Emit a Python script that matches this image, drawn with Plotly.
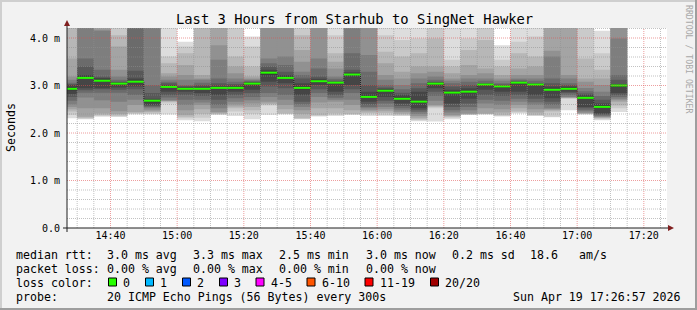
import plotly.graph_objects as go
import pandas as pd

# ---------------- data ----------------
title_text = "Last 3 Hours from Starhub to SingNet Hawker"
date_str = "2026-04-19"
x_start = "2026-04-19 14:26:57"
x_end = "2026-04-19 17:26:57"

bar_times = ["14:30", "14:35", "14:40", "14:45", "14:50", "14:55",
             "15:00", "15:05", "15:10", "15:15", "15:20", "15:25",
             "15:30", "15:35", "15:40", "15:45", "15:50", "15:55",
             "16:00", "16:05", "16:10", "16:15", "16:20", "16:25",
             "16:30", "16:35", "16:40", "16:45", "16:50", "16:55",
             "17:00", "17:05", "17:10", "17:15"]

medians = [2.93, 3.16, 3.10, 3.04, 3.08, 2.68, 2.97, 2.93, 2.93, 2.95, 2.95, 3.04,
           3.27, 3.16, 2.95, 3.09, 3.06, 3.23, 2.76, 2.89, 2.72, 2.66, 3.04, 2.85,
           2.87, 3.02, 2.98, 3.06, 3.02, 2.91, 2.93, 2.74, 2.55, 3.00]

# 20 sorted ping RTTs (ms) per 5-minute step
pings = [
    [2.31, 2.38, 2.45, 2.50, 2.55, 2.60, 2.68, 2.76, 2.82, 2.90, 2.96, 3.01, 3.03, 3.06, 3.12, 3.19, 3.57, 4.40, 4.70, 5.00],
    [2.29, 2.30, 2.32, 2.34, 2.52, 2.75, 2.85, 2.90, 2.94, 3.14, 3.19, 3.22, 3.40, 3.57, 4.50, 4.80, 5.10, 5.40, 5.70, 6.00],
    [2.34, 2.36, 2.38, 2.41, 2.52, 2.69, 2.85, 2.92, 2.94, 3.08, 3.12, 3.16, 3.19, 3.33, 4.15, 4.18, 4.50, 4.80, 5.10, 5.50],
    [2.34, 2.35, 2.37, 2.40, 2.46, 2.66, 2.85, 2.91, 2.96, 3.02, 3.06, 3.07, 3.08, 3.12, 3.19, 3.33, 3.82, 4.06, 4.50, 4.90],
    [2.39, 2.40, 2.42, 2.44, 2.59, 2.70, 2.80, 2.92, 2.98, 3.06, 3.10, 3.15, 3.31, 4.40, 4.70, 5.00, 5.30, 5.60, 6.00, 6.50],
    [2.39, 2.40, 2.43, 2.45, 2.48, 2.52, 2.55, 2.57, 2.59, 2.65, 2.69, 2.72, 2.84, 3.01, 4.40, 4.70, 5.00, 5.30, 5.60, 6.00],
    [2.39, 2.62, 2.66, 2.67, 2.68, 2.69, 2.75, 2.80, 2.87, 2.95, 2.99, 3.01, 3.05, 3.08, 3.12, 3.19, 3.26, 3.47, 3.61, 4.50],
    [2.27, 2.31, 2.34, 2.38, 2.48, 2.59, 2.70, 2.80, 2.87, 2.91, 2.95, 2.97, 2.99, 3.01, 3.12, 3.22, 3.43, 3.68, 3.82, 3.92],
    [2.25, 2.32, 2.40, 2.50, 2.59, 2.64, 2.70, 2.78, 2.84, 2.91, 2.95, 2.98, 3.01, 3.06, 3.12, 3.15, 3.22, 4.40, 4.80, 5.20],
    [2.38, 2.39, 2.40, 2.42, 2.44, 2.52, 2.59, 2.70, 2.80, 2.93, 2.97, 3.00, 3.05, 3.15, 3.54, 3.85, 4.40, 4.80, 5.10, 5.40],
    [2.36, 2.45, 2.52, 2.56, 2.60, 2.66, 2.73, 2.80, 2.87, 2.93, 2.97, 3.00, 3.03, 3.08, 3.15, 3.26, 3.40, 3.61, 4.50, 4.90],
    [2.29, 2.40, 2.48, 2.55, 2.62, 2.69, 2.76, 2.84, 2.91, 3.02, 3.06, 3.07, 3.08, 3.10, 3.12, 3.15, 3.19, 3.40, 3.82, 4.03],
    [2.38, 2.58, 2.60, 2.62, 2.66, 2.76, 2.84, 2.98, 3.08, 3.23, 3.29, 3.33, 3.40, 3.47, 3.57, 4.40, 4.70, 5.00, 5.30, 5.60],
    [2.39, 2.40, 2.41, 2.50, 2.59, 2.70, 2.80, 2.94, 3.05, 3.14, 3.19, 3.22, 3.29, 3.43, 3.61, 4.40, 4.70, 5.00, 5.30, 5.60],
    [2.29, 2.30, 2.31, 2.40, 2.48, 2.55, 2.60, 2.66, 2.80, 2.92, 2.98, 3.05, 3.15, 3.22, 3.29, 3.50, 3.75, 4.06, 4.50, 4.90],
    [2.35, 2.36, 2.38, 2.52, 2.64, 2.76, 2.84, 2.92, 3.01, 3.07, 3.11, 3.14, 3.19, 3.36, 3.57, 4.40, 4.70, 5.00, 5.30, 5.60],
    [2.36, 2.38, 2.41, 2.52, 2.66, 2.70, 2.74, 2.80, 2.87, 3.04, 3.07, 3.08, 3.10, 3.14, 3.19, 3.36, 3.50, 3.68, 4.06, 4.60],
    [2.38, 2.39, 2.40, 2.48, 2.59, 2.70, 2.84, 2.92, 3.01, 3.20, 3.24, 3.28, 3.33, 3.68, 4.40, 4.70, 5.00, 5.30, 5.60, 6.00],
    [2.36, 2.39, 2.42, 2.45, 2.48, 2.52, 2.55, 2.60, 2.66, 2.75, 2.79, 2.87, 3.01, 3.29, 3.64, 4.40, 4.70, 5.00, 5.30, 5.60],
    [2.36, 2.38, 2.42, 2.46, 2.50, 2.55, 2.62, 2.68, 2.76, 2.87, 2.91, 2.93, 2.96, 3.01, 3.12, 3.22, 3.47, 3.71, 4.06, 4.60],
    [2.36, 2.37, 2.39, 2.41, 2.44, 2.48, 2.52, 2.57, 2.62, 2.70, 2.75, 2.80, 2.85, 2.92, 3.01, 3.15, 3.29, 3.61, 3.96, 4.50],
    [2.25, 2.27, 2.29, 2.32, 2.36, 2.40, 2.44, 2.48, 2.52, 2.63, 2.68, 2.87, 2.94, 3.05, 3.15, 3.26, 3.40, 3.68, 3.99, 4.50],
    [2.24, 2.52, 2.55, 2.57, 2.59, 2.68, 2.78, 2.87, 2.94, 3.02, 3.06, 3.07, 3.08, 3.12, 3.19, 3.29, 3.40, 3.99, 4.50, 4.90],
    [2.29, 2.32, 2.34, 2.36, 2.38, 2.43, 2.48, 2.55, 2.62, 2.82, 2.87, 2.91, 2.98, 3.05, 3.10, 3.15, 3.26, 3.40, 3.54, 4.50],
    [2.38, 2.385, 2.39, 2.40, 2.41, 2.48, 2.55, 2.62, 2.72, 2.85, 2.89, 2.94, 3.01, 3.08, 3.15, 3.22, 3.43, 3.75, 3.99, 4.50],
    [2.39, 2.395, 2.40, 2.41, 2.52, 2.62, 2.70, 2.80, 2.91, 2.99, 3.03, 3.04, 3.05, 3.10, 3.15, 3.26, 3.36, 3.96, 4.50, 4.90],
    [2.35, 2.36, 2.38, 2.43, 2.50, 2.59, 2.68, 2.78, 2.87, 2.95, 2.99, 3.00, 3.02, 3.05, 3.10, 3.15, 3.22, 3.40, 3.54, 3.85],
    [2.41, 2.43, 2.45, 2.52, 2.59, 2.66, 2.72, 2.80, 2.87, 3.03, 3.07, 3.08, 3.09, 3.12, 3.15, 3.22, 3.36, 3.68, 3.92, 4.50],
    [2.36, 2.37, 2.38, 2.43, 2.50, 2.59, 2.65, 2.72, 2.80, 2.99, 3.03, 3.04, 3.05, 3.10, 3.15, 3.22, 3.40, 3.61, 4.03, 4.60],
    [2.33, 2.34, 2.45, 2.48, 2.50, 2.52, 2.59, 2.66, 2.73, 2.89, 2.93, 2.98, 3.05, 3.15, 3.61, 3.73, 4.40, 4.70, 5.00, 5.30],
    [2.48, 2.72, 2.73, 2.74, 2.75, 2.76, 2.80, 2.84, 2.87, 2.92, 2.96, 2.98, 3.01, 3.05, 3.15, 3.22, 4.40, 4.70, 5.00, 5.30],
    [2.39, 2.395, 2.40, 2.41, 2.42, 2.45, 2.48, 2.52, 2.55, 2.72, 2.76, 2.80, 2.83, 2.88, 2.95, 3.08, 3.15, 3.57, 4.50, 4.90],
    [2.27, 2.29, 2.31, 2.32, 2.34, 2.35, 2.37, 2.39, 2.41, 2.53, 2.58, 2.62, 2.70, 2.78, 2.87, 3.01, 3.15, 3.33, 3.68, 4.15],
    [2.44, 2.52, 2.58, 2.66, 2.69, 2.72, 2.76, 2.80, 2.84, 2.97, 3.01, 3.03, 3.12, 3.22, 3.99, 4.50, 4.80, 5.10, 5.40, 5.70],
]

y_tick_vals = [0, 1, 2, 3, 4]
y_tick_text = ["0.0", "1.0 m", "2.0 m", "3.0 m", "4.0 m"]
y_label = "Seconds"

stat_rows = [
    ("median rtt:", ["3.0 ms avg", "3.3 ms max", "2.5 ms min", "3.0 ms now", "0.2 ms sd", "18.6", "am/s"]),
    ("packet loss:", ["0.00 % avg", "0.00 % max", "0.00 % min", "0.00 % now"]),
]
loss_labels = ["0", "1", "2", "3", "4-5", "6-10", "11-19", "20/20"]
loss_colors = ["#26ff00", "#00b8ff", "#0059ff", "#7e00ff", "#ff00ff", "#ff5500", "#ff0000", "#a10000"]
probe_text = "20 ICMP Echo Pings (56 Bytes) every 300s"
stamp_text = "Sun Apr 19 17:26:57 2026"
watermark = "RRDTOOL / TOBI OETIKER"

# ---------------- layout geometry ----------------
W, H = 697, 310
L, R, T, B = 67, 30, 28, 82
PW, PH = W - L - R, H - T - B
Y_MAX = 200 / 47.5
FONT = "DejaVu Sans Mono"


def px(x):
    return (x - L) / PW


def py(y):
    return (H - B - y) / PH


ends = pd.to_datetime([f"{date_str} {t}" for t in bar_times])
starts = ends - pd.Timedelta(minutes=5)
xs = list(starts) + [ends[-1]]

fig = go.Figure()

# smoke: 10 nested bands, outer lightest, inner darkest (SmokePing smokecol)
half = 10
for i in range(1, half + 1):
    c = int(190 / half * (half - i)) + 50
    lo = [p[i - 1] for p in pings]
    hi = [p[20 - i] for p in pings]
    fig.add_trace(go.Scatter(x=xs, y=lo + [lo[-1]], mode="lines",
                             line=dict(width=0, shape="hv"),
                             hoverinfo="skip", showlegend=False))
    fig.add_trace(go.Scatter(x=xs, y=hi + [hi[-1]], mode="lines",
                             line=dict(width=0, shape="hv"),
                             fill="tonexty", fillcolor=f"rgb({c},{c},{c})",
                             hoverinfo="skip", showlegend=False))

# median step line (black) and green median segments
fig.add_trace(go.Scatter(x=xs, y=medians + [medians[-1]], mode="lines",
                         line=dict(width=1, shape="hv", color="#1f1f1f", dash="1px,1px"),
                         hoverinfo="skip", showlegend=False))
gx, gy = [], []
for s, e, m in zip(starts, ends, medians):
    gx += [s, e, None]
    gy += [m, m, None]
fig.add_trace(go.Scatter(x=gx, y=gy, mode="lines",
                         line=dict(width=2, color=loss_colors[0]),
                         hoverinfo="skip", showlegend=False))

shapes = []
# grid (drawn above smoke, as rrdtool does)
minor_col = "rgba(143,143,143,0.55)"
major_col = "rgba(222,79,79,0.55)"
for t in pd.date_range(f"{date_str} 14:30", f"{date_str} 17:25", freq="5min"):
    col = major_col if t.minute % 20 == 0 else minor_col
    shapes.append(dict(type="line", xref="x", yref="paper", x0=t, x1=t, y0=0, y1=1,
                       line=dict(color=col, width=1, dash="1px,1px"), layer="above"))
for k in range(1, 22):
    v = k * 0.2
    col = major_col if k % 5 == 0 else minor_col
    shapes.append(dict(type="line", xref="paper", yref="y", x0=0, x1=1, y0=v, y1=v,
                       line=dict(color=col, width=1, dash="1px,1px"), layer="above"))

# axes with arrows
axis_col = "#1f1f1f"
arrow_col = "#801f1f"
shapes.append(dict(type="line", xref="paper", yref="paper", x0=px(63), x1=px(669),
                   y0=py(228), y1=py(228), line=dict(color=axis_col, width=1), layer="above"))
shapes.append(dict(type="line", xref="paper", yref="paper", x0=px(67), x1=px(67),
                   y0=py(232), y1=py(25), line=dict(color=axis_col, width=1), layer="above"))
shapes.append(dict(type="path", xref="paper", yref="paper",
                   path=f"M{px(668)},{py(225)} L{px(674)},{py(228)} L{px(668)},{py(231)} Z",
                   fillcolor=arrow_col, line=dict(width=0), layer="above"))
shapes.append(dict(type="path", xref="paper", yref="paper",
                   path=f"M{px(64)},{py(26)} L{px(67)},{py(20)} L{px(70)},{py(26)} Z",
                   fillcolor=arrow_col, line=dict(width=0), layer="above"))

# outer 3D frame
shapes.append(dict(type="rect", xref="paper", yref="paper", x0=px(0), x1=px(W), y0=py(0), y1=py(2),
                   fillcolor="#cfcfcf", line=dict(width=0), layer="above"))
shapes.append(dict(type="rect", xref="paper", yref="paper", x0=px(0), x1=px(2), y0=py(0), y1=py(H),
                   fillcolor="#cfcfcf", line=dict(width=0), layer="above"))
shapes.append(dict(type="rect", xref="paper", yref="paper", x0=px(0), x1=px(W), y0=py(H - 2), y1=py(H),
                   fillcolor="#9e9e9e", line=dict(width=0), layer="above"))
shapes.append(dict(type="rect", xref="paper", yref="paper", x0=px(W - 2), x1=px(W), y0=py(0), y1=py(H),
                   fillcolor="#9e9e9e", line=dict(width=0), layer="above"))

annotations = []


def text(x, y, s, size=11.6, anchor="left", color="black", angle=0):
    annotations.append(dict(x=px(x), y=py(y), xref="paper", yref="paper", text=s,
                            showarrow=False, xanchor=anchor, yanchor="middle",
                            font=dict(family=FONT, size=size, color=color),
                            borderpad=0, borderwidth=0, textangle=angle))


text(354.5, 19, title_text, size=13.8, anchor="center")
text(11, 128, y_label, size=11.6, anchor="center", angle=-90)
text(689, 59, watermark, size=8.2, anchor="center", color="#a8a8a8", angle=90)

col_x = [107, 193, 279, 365.5, 451.5, 529.5, 579]
row_y = [254.5, 268.5, 282.5, 296.5]
for (label, fields), yv in zip(stat_rows, row_y[:2]):
    text(15.5, yv, label)
    for f, xv in zip(fields, col_x):
        text(xv, yv, f)

text(15.5, row_y[2], "loss color:")
box_x = [108.5, 145.5, 182.5, 219.5, 256, 307, 365, 430.5]
for lab, colr, bx in zip(loss_labels, loss_colors, box_x):
    shapes.append(dict(type="rect", xref="paper", yref="paper",
                       x0=px(bx), x1=px(bx + 8), y0=py(row_y[2] - 4.5), y1=py(row_y[2] + 3.5),
                       fillcolor=colr, line=dict(color="black", width=1), layer="above"))
    text(bx + 14.5, row_y[2], lab)

text(15.5, row_y[3], "probe:")
text(107, row_y[3], probe_text)
text(681, row_y[3], stamp_text, anchor="right")

fig.update_layout(
    width=W, height=H,
    margin=dict(l=L, r=R, t=T, b=B, pad=0),
    paper_bgcolor="#f2f2f2", plot_bgcolor="#ffffff",
    showlegend=False,
    shapes=shapes, annotations=annotations,
    font=dict(family=FONT, size=10, color="black"),
    xaxis=dict(type="date", range=[x_start, x_end], showgrid=False, zeroline=False,
               showline=False, tick0=f"{date_str} 14:40", dtick=20 * 60 * 1000,
               tickformat="%H:%M", ticks="", tickfont=dict(family=FONT, size=10),
               fixedrange=True),
    yaxis=dict(range=[0, Y_MAX], showgrid=False, zeroline=False, showline=False,
               tickvals=y_tick_vals, ticktext=y_tick_text, ticks="",
               tickfont=dict(family=FONT, size=10), ticklabelstandoff=6,
               fixedrange=True),
)

fig.write_html("out.html", config={"displayModeBar": False})
